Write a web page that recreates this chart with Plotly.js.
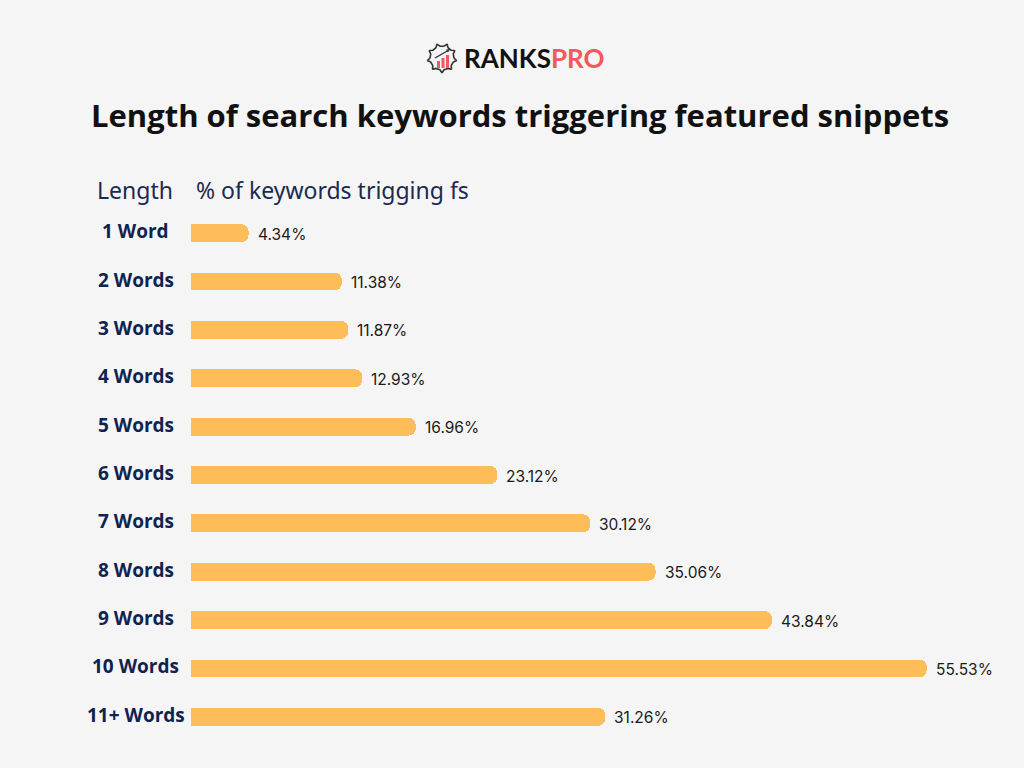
<!DOCTYPE html>
<html>
<head>
<meta charset="utf-8">
<script src="https://cdn.plot.ly/plotly-3.0.1.min.js"></script>
<style>
html,body{margin:0;padding:0;background:#f5f5f5;}
#chart{width:1024px;height:768px;position:relative;}
#gear{position:absolute;left:426px;top:41px;width:32px;height:34px;pointer-events:none;}
</style>
</head>
<body>
<div id="chart"></div>
<svg id="gear" viewBox="0 0 32 34">
  <path id="gearpath" fill="none" stroke="#333" stroke-width="1.6" stroke-linejoin="round"/>
  <rect x="11" y="20" width="3" height="7" fill="#f05a5a"/>
  <rect x="15.5" y="17" width="3" height="10" fill="#f05a5a"/>
  <rect x="20" y="14" width="3" height="13" fill="#f05a5a"/>
  <line x1="9" y1="17" x2="23" y2="9" stroke="#333" stroke-width="1.4"/>
  <polygon points="24,8 20,8.5 22,11.5" fill="#333"/>
</svg>
<script>
// gear outline (decoration)
(function(){
  var cx=16, cy=17, r1=12, r2=14.5, n=9, d='';
  for (var i=0;i<n;i++){
    var a0=(i/n)*2*Math.PI, a1=a0+Math.PI/n*0.45, a2=a0+Math.PI/n*0.55, a3=a0+Math.PI/n;
    var pts=[[r1,a0],[r2,a1],[r2,a2],[r1,a3]];
    pts.forEach(function(p,j){
      var x=cx+p[0]*Math.cos(p[1]), y=cy+p[0]*Math.sin(p[1]);
      d+=(i===0&&j===0?'M':'L')+x.toFixed(2)+' '+y.toFixed(2)+' ';
    });
    var a4=a0+2*Math.PI/n;
    d+='L'+(cx+r1*Math.cos(a4)).toFixed(2)+' '+(cy+r1*Math.sin(a4)).toFixed(2)+' ';
  }
  document.getElementById('gearpath').setAttribute('d', d+'Z');
})();

var categories = ['1 Word','2 Words','3 Words','4 Words','5 Words','6 Words','7 Words','8 Words','9 Words','10 Words','11+ Words'];
var values = [4.34, 11.38, 11.87, 12.93, 16.96, 23.12, 30.12, 35.06, 43.84, 55.53, 31.26];
var valueLabels = ['4.34%','11.38%','11.87%','12.93%','16.96%','23.12%','30.12%','35.06%','43.84%','55.53%','31.26%'];

var trace = {
  type: 'bar',
  orientation: 'h',
  x: values,
  y: categories,
  width: 0.37,
  marker: {color: '#ffbd59', cornerradius: 7},
  hoverinfo: 'skip'
};

var annotations = [];
categories.forEach(function(c, i){
  annotations.push({
    x: -0.068, xref: 'paper', y: c, yref: 'y',
    text: '<b>' + c + '</b>', showarrow: false, xanchor: 'center', yanchor: 'middle',
    yshift: 2,
    font: {family: 'Open Sans, sans-serif', size: 19, color: '#0f2350'}
  });
  annotations.push({
    x: values[i], xref: 'x', y: c, yref: 'y',
    text: valueLabels[i], showarrow: false, xanchor: 'left', yanchor: 'middle',
    xshift: 7, yshift: -1,
    font: {family: 'Inter, sans-serif', size: 15.5, color: '#1a1a1a'}
  });
});

annotations.push({
  x: 0.407, xref: 'paper', y: 1.1767, yref: 'paper',
  text: '<b>Length of search keywords triggering featured snippets</b>',
  showarrow: false, xanchor: 'center', yanchor: 'middle',
  font: {family: 'Open Sans, sans-serif', size: 31, color: '#111111'}
});
annotations.push({
  x: 0.4245, xref: 'paper', y: 1.284, yref: 'paper',
  text: '<b>RANKS</b><span style="color:#f05a5a"><b>PRO</b></span>',
  showarrow: false, xanchor: 'center', yanchor: 'middle',
  font: {family: 'Lato, sans-serif', size: 26, weight: 900, color: '#111111'}
});
annotations.push({
  x: -0.1187, xref: 'paper', y: 1.0357, yref: 'paper',
  text: 'Length', showarrow: false, xanchor: 'left', yanchor: 'middle',
  font: {family: 'Noto Sans, sans-serif', size: 23, color: '#1b2a4e'}
});
annotations.push({
  x: 0.004, xref: 'paper', y: 1.0357, yref: 'paper',
  text: '% of keywords trigging fs', showarrow: false, xanchor: 'left', yanchor: 'middle',
  font: {family: 'Noto Sans, sans-serif', size: 23, color: '#1b2a4e'}
});

var layout = {
  width: 1024, height: 768,
  paper_bgcolor: '#f5f5f5', plot_bgcolor: '#f5f5f5',
  margin: {l: 191, r: 24, t: 209, b: 27},
  showlegend: false,
  xaxis: {range: [0, 61.06], visible: false, fixedrange: true},
  yaxis: {autorange: 'reversed', visible: false, fixedrange: true},
  annotations: annotations,
  bargap: 0
};

Plotly.newPlot('chart', [trace], layout, {displayModeBar: false, staticPlot: true});
</script>
</body>
</html>
